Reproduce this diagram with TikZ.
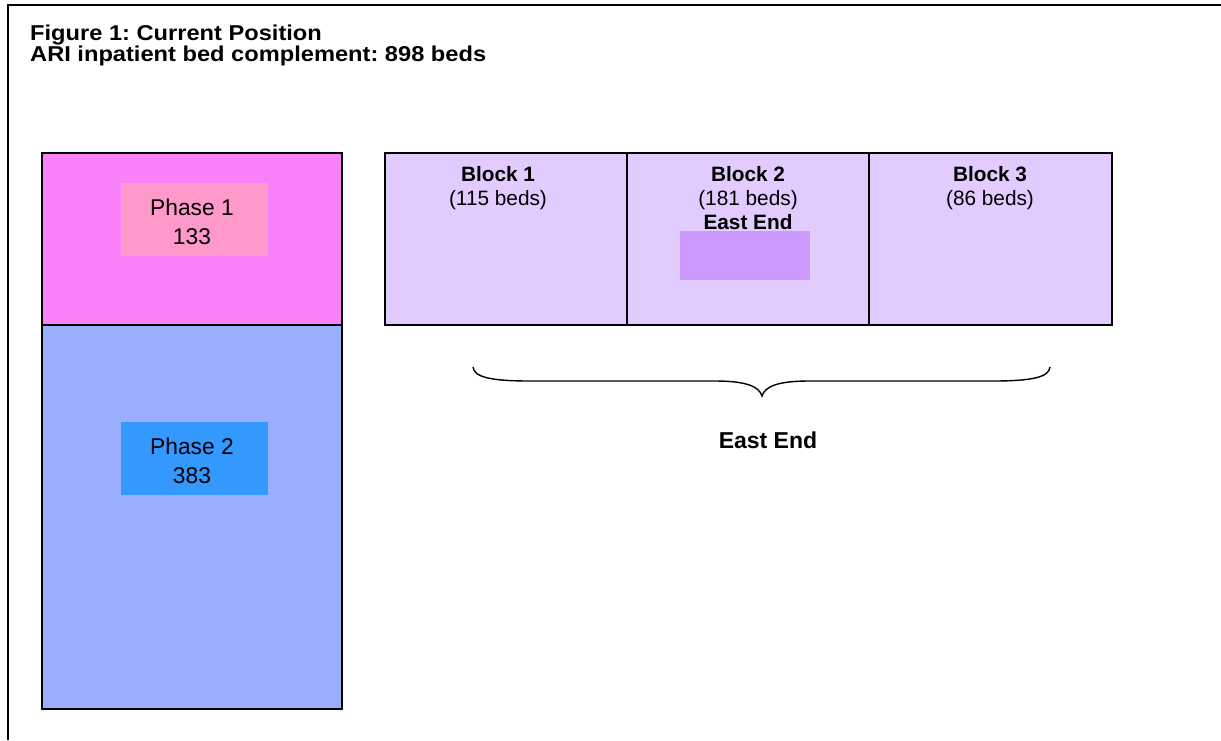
\documentclass[tikz,border=0pt]{standalone}
\usepackage{fontspec}
\setmainfont{Liberation Sans}
\frenchspacing
\begin{document}
\begin{tikzpicture}[x=1pt,y=-1pt,
  txt/.style={inner sep=0pt, anchor=base},
  ttl/.style={inner sep=0pt, anchor=base west, font=\fontsize{21.5}{24}\selectfont\bfseries},
  phase/.style={txt, font=\fontsize{22.8}{26}\selectfont},
  blk/.style={txt, font=\fontsize{20.8}{24}\selectfont}]
\definecolor{pinkarea}{RGB}{248,128,248}
\definecolor{bluearea}{RGB}{154,174,255}
\definecolor{lav}{RGB}{226,204,255}
\definecolor{pinklab}{RGB}{255,153,204}
\definecolor{bluelab}{RGB}{51,153,255}
\definecolor{purplab}{RGB}{204,153,255}
\useasboundingbox (0,0) rectangle (1221,740);
\fill[white] (0,0) rectangle (1221,740);
% outer frame
\draw[line width=1.8pt] (8,740) -- (8,5) -- (1221,5);
\node[ttl] (title1) at (30,40) {\scalebox{1.1}[1]{Figure 1: Current Position}};
\node[ttl] (title2) at (30,61.5) {\scalebox{1.1}[1]{ARI inpatient bed complement: 898 beds}};
% phases
\fill[pinkarea] (42,153) rectangle (342,325);
\fill[bluearea] (42,325) rectangle (342,709);
\draw[line width=1.5pt] (42,153) rectangle (342,709);
\draw[line width=1.5pt] (42,325) -- (342,325);
\node[fill=pinklab, minimum width=147pt, minimum height=73pt, inner sep=0pt] (p1) at (194,219.5) {};
\node[phase] (p1a) at (192,215) {Phase 1};
\node[phase] (p1b) at (192,244) {133};
\node[fill=bluelab, minimum width=147pt, minimum height=73pt, inner sep=0pt] (p2) at (194,458.5) {};
\node[phase] (p2a) at (192,454) {Phase 2};
\node[phase] (p2b) at (192,483) {383};
% blocks
\fill[lav] (385,153) rectangle (1112,325);
\draw[line width=1.5pt] (385,153) rectangle (1112,325);
\draw[line width=1.5pt] (627,153) -- (627,325);
\draw[line width=1.5pt] (869,153) -- (869,325);
\node[fill=purplab, minimum width=130pt, minimum height=49pt, inner sep=0pt] (ee) at (745,255.5) {};
\node[blk] (b1a) at (498,181.5) {\textbf{Block 1}};
\node[blk] (b1b) at (498,205.5) {(115 beds)};
\node[blk] (b2a) at (748,181.5) {\textbf{Block 2}};
\node[blk] (b2b) at (748,205.5) {(181 beds)};
\node[blk] (b2c) at (748,229.5) {\textbf{East End}};
\node[blk] (b3a) at (990,181.5) {\textbf{Block 3}};
\node[blk] (b3b) at (990,205.5) {(86 beds)};
% brace
\draw[line width=1.4pt] (473,367) .. controls (474,377) and (490,381) .. (530,381)
  -- (715,381) .. controls (745,381) and (759,386) .. (762,396)
  .. controls (765,386) and (779,381) .. (809,381)
  -- (993,381) .. controls (1033,381) and (1049,377) .. (1050,367);
\node[txt, font=\fontsize{23}{26}\selectfont\bfseries] (eel) at (768,448) {East End};
\end{tikzpicture}
\end{document}
